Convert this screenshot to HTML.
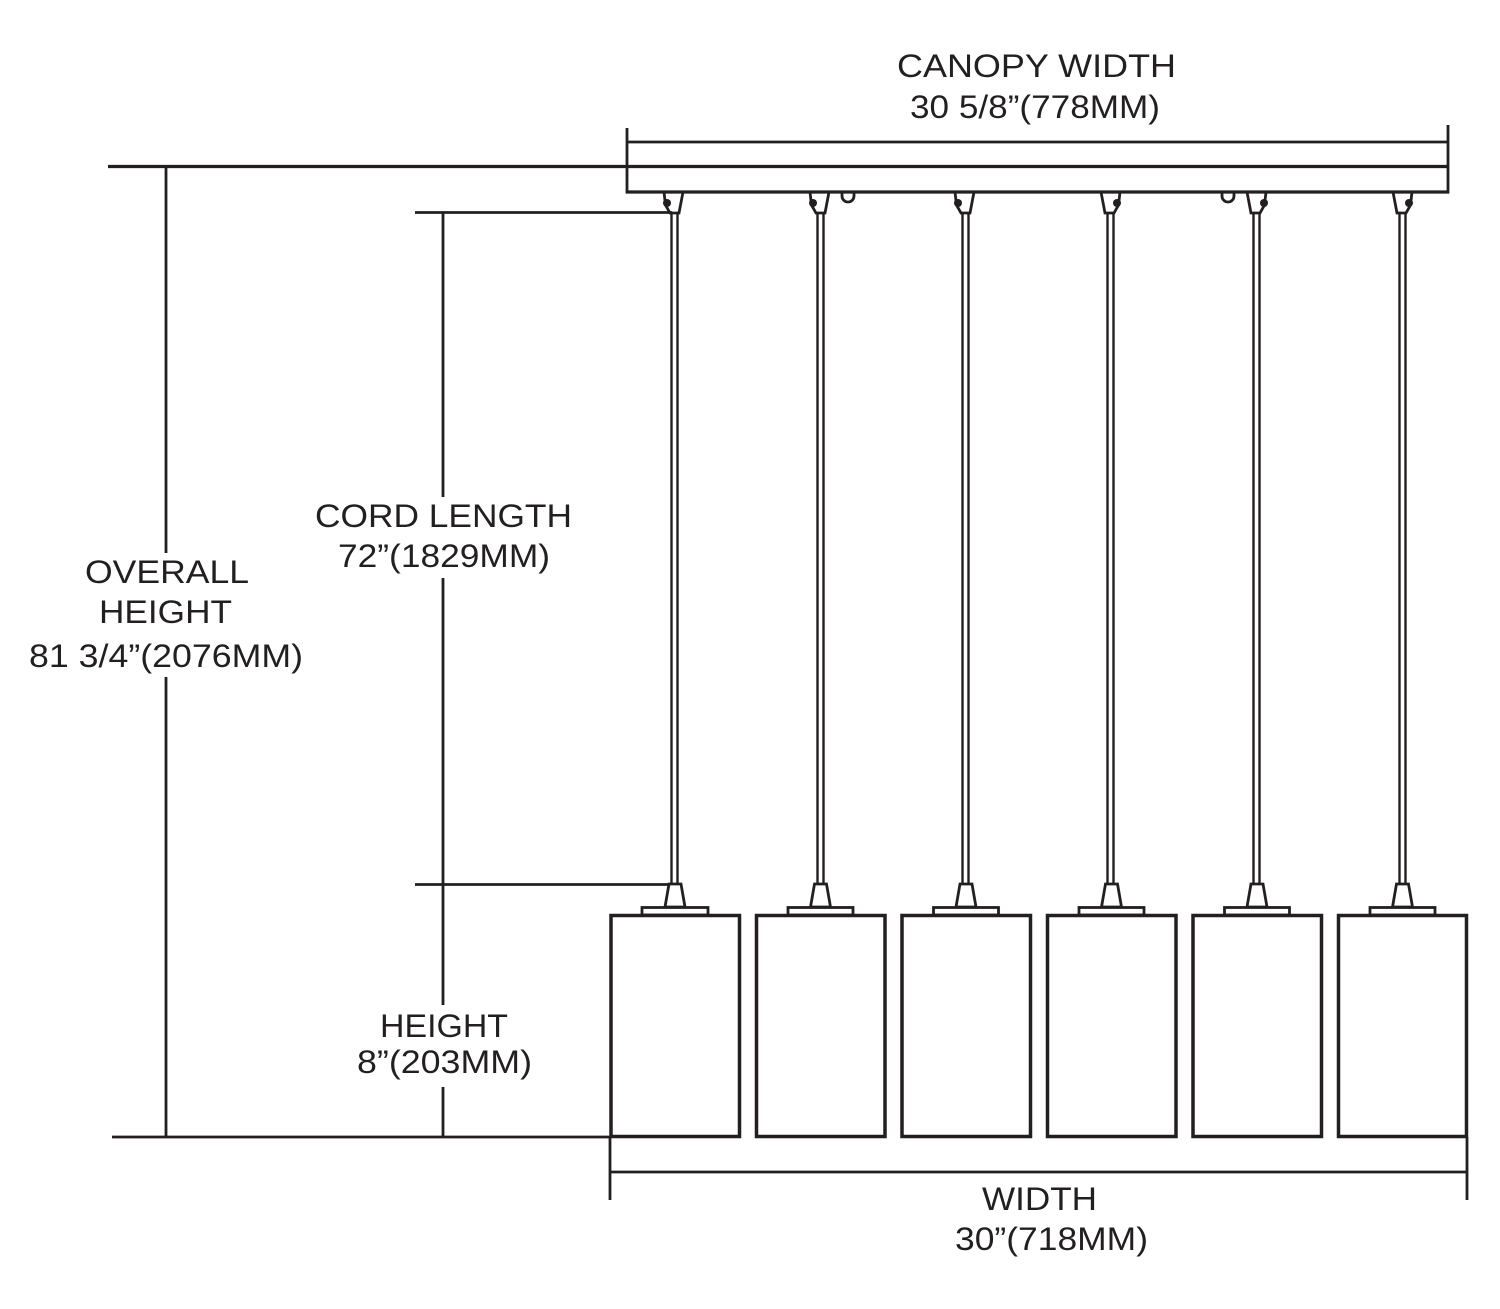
<!DOCTYPE html>
<html>
<head>
<meta charset="utf-8">
<style>
html,body{margin:0;padding:0;background:#fff;}
svg{display:block;}
text{font-family:"Liberation Sans",Arial,sans-serif;font-size:32px;fill:#231f20;}
</style>
</head>
<body>
<svg width="1500" height="1309" viewBox="0 0 1500 1309" xmlns="http://www.w3.org/2000/svg">
<g stroke="#231f20" fill="none" stroke-linecap="butt">
  <!-- Canopy dimension -->
  <line x1="627" y1="142" x2="1448" y2="142" stroke-width="2.8"/>
  <line x1="627" y1="128" x2="627" y2="193.5" stroke-width="2.8"/>
  <line x1="1448" y1="125" x2="1448" y2="193.5" stroke-width="2.8"/>
  <!-- canopy top / overall height extension -->
  <line x1="108" y1="166.5" x2="1449" y2="166.5" stroke-width="3.2"/>
  <!-- canopy bottom -->
  <line x1="626" y1="192" x2="1449" y2="192" stroke-width="3.2"/>

  <!-- overall height -->
  <line x1="166" y1="166" x2="166" y2="553" stroke-width="2.8"/>
  <line x1="166" y1="677" x2="166" y2="1137" stroke-width="2.8"/>
  <line x1="112" y1="1137" x2="611" y2="1137" stroke-width="2.8"/>

  <!-- cord length -->
  <line x1="415" y1="212.5" x2="672" y2="212.5" stroke-width="2.8"/>
  <line x1="443" y1="212" x2="443" y2="497" stroke-width="2.8"/>
  <line x1="443" y1="578" x2="443" y2="1005" stroke-width="2.8"/>
  <line x1="443" y1="1087" x2="443" y2="1137" stroke-width="2.8"/>
  <line x1="415" y1="884.5" x2="669" y2="884.5" stroke-width="2.8"/>

  <!-- width dimension -->
  <line x1="610" y1="1137" x2="610" y2="1200" stroke-width="2.8"/>
  <line x1="1467" y1="1137" x2="1467" y2="1200" stroke-width="2.8"/>
  <line x1="610" y1="1172" x2="1467" y2="1172" stroke-width="2.8"/>

  <!-- loops -->
  <path d="M842,192 v4 a6,6 0 0 0 12,0 v-4" stroke-width="2.8"/>
  <path d="M1222,192 v4 a6,6 0 0 0 12,0 v-4" stroke-width="2.8"/>

  <!-- Pendant 1 -->
  <g>
    <path d="M664,192 L665.5,205 L670,213 L679,213 L683,192" stroke-width="2.8"/>
    <line x1="671.5" y1="213" x2="671.5" y2="884" stroke-width="2.4"/>
    <line x1="677.5" y1="213" x2="677.5" y2="884" stroke-width="2.4"/>
    <path d="M669,884 L681,884 L685,907 L665,907 Z" stroke-width="2.8"/>
    <rect x="642" y="907.5" width="66" height="7.5" stroke-width="2.8"/>
    <rect x="611" y="915.5" width="128.5" height="221" stroke-width="3.5"/>
  </g>
  <!-- Pendant 2 -->
  <g>
    <path d="M810,192 L811.5,205 L816,213 L825,213 L829,192" stroke-width="2.8"/>
    <line x1="817.5" y1="213" x2="817.5" y2="884" stroke-width="2.4"/>
    <line x1="823.5" y1="213" x2="823.5" y2="884" stroke-width="2.4"/>
    <path d="M814.5,884 L826.5,884 L830.5,907 L810.5,907 Z" stroke-width="2.8"/>
    <rect x="788" y="907.5" width="65" height="7.5" stroke-width="2.8"/>
    <rect x="756.5" y="915.5" width="128.5" height="221" stroke-width="3.5"/>
  </g>
  <!-- Pendant 3 -->
  <g>
    <path d="M955,192 L956.5,205 L961,213 L970,213 L974,192" stroke-width="2.8"/>
    <line x1="962.5" y1="213" x2="962.5" y2="884" stroke-width="2.4"/>
    <line x1="968.5" y1="213" x2="968.5" y2="884" stroke-width="2.4"/>
    <path d="M960,884 L972,884 L976,907 L956,907 Z" stroke-width="2.8"/>
    <rect x="933.5" y="907.5" width="65" height="7.5" stroke-width="2.8"/>
    <rect x="902" y="915.5" width="128.5" height="221" stroke-width="3.5"/>
  </g>
  <!-- Pendant 4 -->
  <g>
    <path d="M1101,192 L1105,213 L1114,213 L1118.5,205 L1120,192" stroke-width="2.8"/>
    <line x1="1107.5" y1="213" x2="1107.5" y2="884" stroke-width="2.4"/>
    <line x1="1113.5" y1="213" x2="1113.5" y2="884" stroke-width="2.4"/>
    <path d="M1105.5,884 L1117.5,884 L1121.5,907 L1101.5,907 Z" stroke-width="2.8"/>
    <rect x="1079" y="907.5" width="65" height="7.5" stroke-width="2.8"/>
    <rect x="1047.5" y="915.5" width="128.5" height="221" stroke-width="3.5"/>
  </g>
  <!-- Pendant 5 -->
  <g>
    <path d="M1247,192 L1251,213 L1260,213 L1264.5,205 L1266,192" stroke-width="2.8"/>
    <line x1="1253.5" y1="213" x2="1253.5" y2="884" stroke-width="2.4"/>
    <line x1="1259.5" y1="213" x2="1259.5" y2="884" stroke-width="2.4"/>
    <path d="M1251,884 L1263,884 L1267,907 L1247,907 Z" stroke-width="2.8"/>
    <rect x="1224.5" y="907.5" width="65" height="7.5" stroke-width="2.8"/>
    <rect x="1193" y="915.5" width="128.5" height="221" stroke-width="3.5"/>
  </g>
  <!-- Pendant 6 -->
  <g>
    <path d="M1393,192 L1397,213 L1406,213 L1410.5,205 L1412,192" stroke-width="2.8"/>
    <line x1="1399.5" y1="213" x2="1399.5" y2="884" stroke-width="2.4"/>
    <line x1="1405.5" y1="213" x2="1405.5" y2="884" stroke-width="2.4"/>
    <path d="M1396.5,884 L1408.5,884 L1412.5,907 L1392.5,907 Z" stroke-width="2.8"/>
    <rect x="1370" y="907.5" width="65" height="7.5" stroke-width="2.8"/>
    <rect x="1338.5" y="915.5" width="128" height="221" stroke-width="3.5"/>
  </g>
</g>

<!-- set-screw dots -->
<g fill="#231f20">
  <circle cx="667" cy="203" r="4"/>
  <circle cx="813" cy="203" r="4"/>
  <circle cx="958" cy="203" r="4"/>
  <circle cx="1117" cy="203" r="4"/>
  <circle cx="1264" cy="203" r="4"/>
  <circle cx="1409" cy="203" r="4"/>
</g>

<!-- Labels -->
<text x="897" y="77" textLength="279" lengthAdjust="spacingAndGlyphs">CANOPY WIDTH</text>
<text x="910" y="118" textLength="250" lengthAdjust="spacingAndGlyphs">30 5/8”(778MM)</text>

<text x="85" y="583" textLength="164" lengthAdjust="spacingAndGlyphs">OVERALL</text>
<text x="99" y="623" textLength="133" lengthAdjust="spacingAndGlyphs">HEIGHT</text>
<text x="29" y="667" textLength="274" lengthAdjust="spacingAndGlyphs">81 3/4”(2076MM)</text>

<text x="315" y="527" textLength="257" lengthAdjust="spacingAndGlyphs">CORD LENGTH</text>
<text x="338" y="567" textLength="212" lengthAdjust="spacingAndGlyphs">72”(1829MM)</text>

<text x="380" y="1037" textLength="128" lengthAdjust="spacingAndGlyphs">HEIGHT</text>
<text x="357" y="1073" textLength="175" lengthAdjust="spacingAndGlyphs">8”(203MM)</text>

<text x="982" y="1210" textLength="115" lengthAdjust="spacingAndGlyphs">WIDTH</text>
<text x="955" y="1250" textLength="193" lengthAdjust="spacingAndGlyphs">30”(718MM)</text>
</svg>
</body>
</html>
